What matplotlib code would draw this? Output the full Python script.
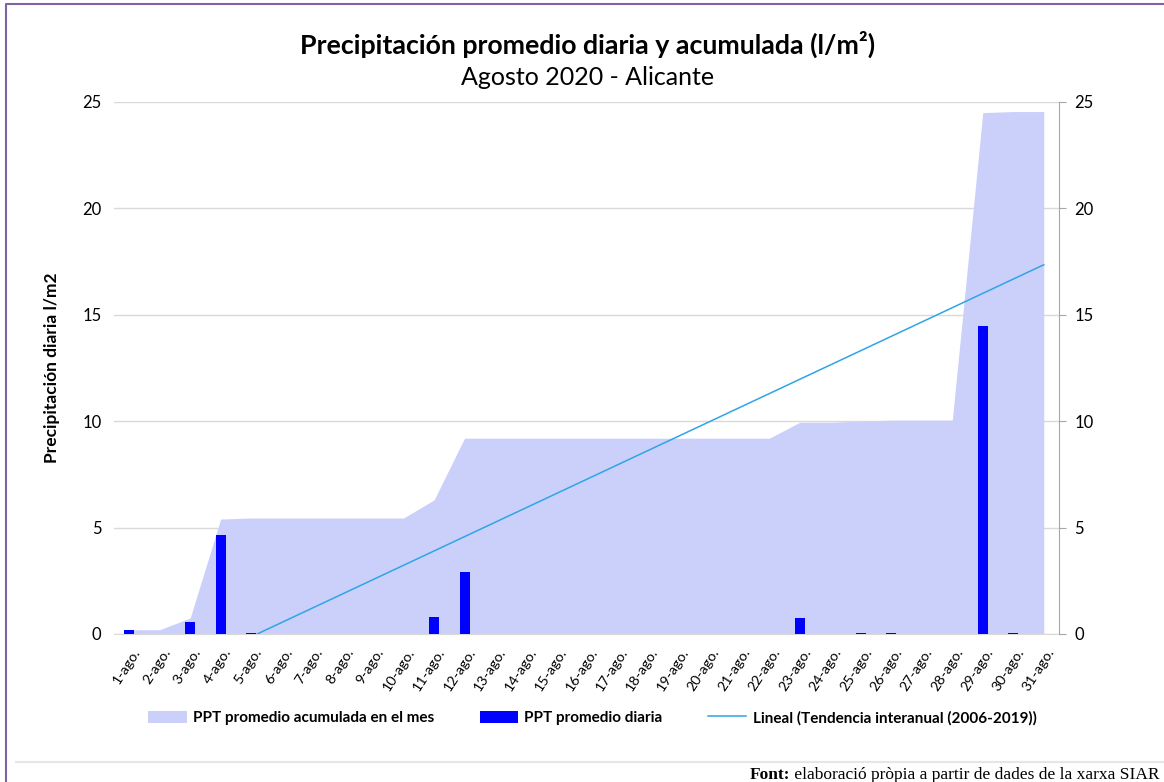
import numpy as np
import matplotlib.pyplot as plt
import matplotlib.transforms as mtransforms

# daily data, August 2020
days = [f"{d}-ago." for d in range(1, 32)]
ppt_daily = [0.18, 0.0, 0.56, 4.65, 0.05, 0.0, 0.0, 0.0, 0.0, 0.0,
             0.8, 2.92, 0.0, 0.0, 0.0, 0.0, 0.0, 0.0, 0.0, 0.0,
             0.0, 0.0, 0.75, 0.0, 0.05, 0.05, 0.0, 0.0, 14.45, 0.05, 0.0]
ppt_cum = [0.2, 0.2, 0.75, 5.4, 5.45, 5.45, 5.45, 5.45, 5.45, 5.45,
           6.3, 9.2, 9.2, 9.2, 9.2, 9.2, 9.2, 9.2, 9.2, 9.2,
           9.2, 9.2, 9.95, 9.95, 10.0, 10.05, 10.05, 10.05, 24.5, 24.55, 24.55]
# linear trend (visible part, from ~5-ago. to 31-ago.)
trend_days = [4.2, 30]
trend_vals = [0.0, 17.35]

yticks = [0, 5, 10, 15, 20, 25]

plt.rcParams['font.family'] = ['Lato', 'DejaVu Sans']

fig = plt.figure(figsize=(11.64, 7.82), dpi=100)
ax = fig.add_axes([0.0979, 0.1893, 0.8119, 0.6803])

x = np.arange(len(days))
h_area = ax.fill_between(x, ppt_cum, color='#CBD0FA', linewidth=0, zorder=1,
                         label='PPT promedio acumulada en el mes')
h_bar = ax.bar(x, ppt_daily, width=0.33, color='#0000FF', zorder=3,
               label='PPT promedio diaria')
h_line, = ax.plot(trend_days, trend_vals, color='#2FA4E7', linewidth=1.1,
                  zorder=4, label='Lineal (Tendencia interanual (2006-2019))')

ax.set_xlim(-0.5, len(days) - 0.5)
ax.set_ylim(0, 25)
ax.set_yticks(yticks)
ax.yaxis.grid(True, color='#d9d9d9', linewidth=1, zorder=0)
ax.set_axisbelow(True)
for s in ['top', 'left', 'right']:
    ax.spines[s].set_visible(False)
ax.spines['bottom'].set_color('#d9d9d9')
ax.tick_params(axis='y', length=0, labelsize=12, pad=9)
ax.tick_params(axis='x', length=0, pad=9)
ax.set_xticks(x)
ax.set_xticklabels(days, rotation=57, ha='right', rotation_mode='anchor',
                   fontsize=10.3)
shift = mtransforms.ScaledTranslation(3 / 100, 0, fig.dpi_scale_trans)
for lab in ax.get_xticklabels():
    lab.set_transform(lab.get_transform() + shift)
ax.set_ylabel('Precipitación diaria l/m2', fontsize=12.5, fontweight='bold',
              labelpad=16)

ax2 = ax.twinx()
ax2.set_ylim(0, 25)
ax2.set_yticks(yticks)
for s in ['top', 'left', 'bottom']:
    ax2.spines[s].set_visible(False)
ax2.spines['right'].set_color('#a6a6a6')
ax2.tick_params(axis='y', length=5, color='#a6a6a6', labelsize=12, pad=6)

fig.text(0.505, 0.943, 'Precipitación promedio diaria y acumulada (l/m²)',
         ha='center', va='center', fontsize=19.3, fontweight='bold')
fig.text(0.505, 0.901, 'Agosto 2020 - Alicante', ha='center', va='center',
         fontsize=18)

fig.legend([h_area, h_bar, h_line],
           [h_area.get_label(), h_bar.get_label(), h_line.get_label()],
           loc='center', bbox_to_anchor=(0.509, 0.082), ncol=3,
           frameon=False, handlelength=2.5, handleheight=0.9,
           columnspacing=3.0, handletextpad=0.4,
           prop={'weight': 'bold', 'size': 11})

# frame and footer
fig.add_artist(plt.Line2D([0.0052, 0.0052, 1.0], [0.0, 0.995, 0.995],
                          color='#8064A2', linewidth=1.5))
fig.add_artist(plt.Line2D([0.014, 1.0], [0.026, 0.026],
                          color='#e6e6e6', linewidth=1.5))
t1 = fig.text(0.9965, 0.004, ' elaboració pròpia a partir de dades de la xarxa SIAR',
              ha='right', va='baseline', fontsize=12.5, family='Liberation Serif')
fig.canvas.draw()
bb = t1.get_window_extent().transformed(fig.transFigure.inverted())
fig.text(bb.x0, 0.004, 'Font:', ha='right', va='baseline', fontsize=12.5,
         family='Liberation Serif', fontweight='bold')

fig.savefig('out.png', dpi=100)
